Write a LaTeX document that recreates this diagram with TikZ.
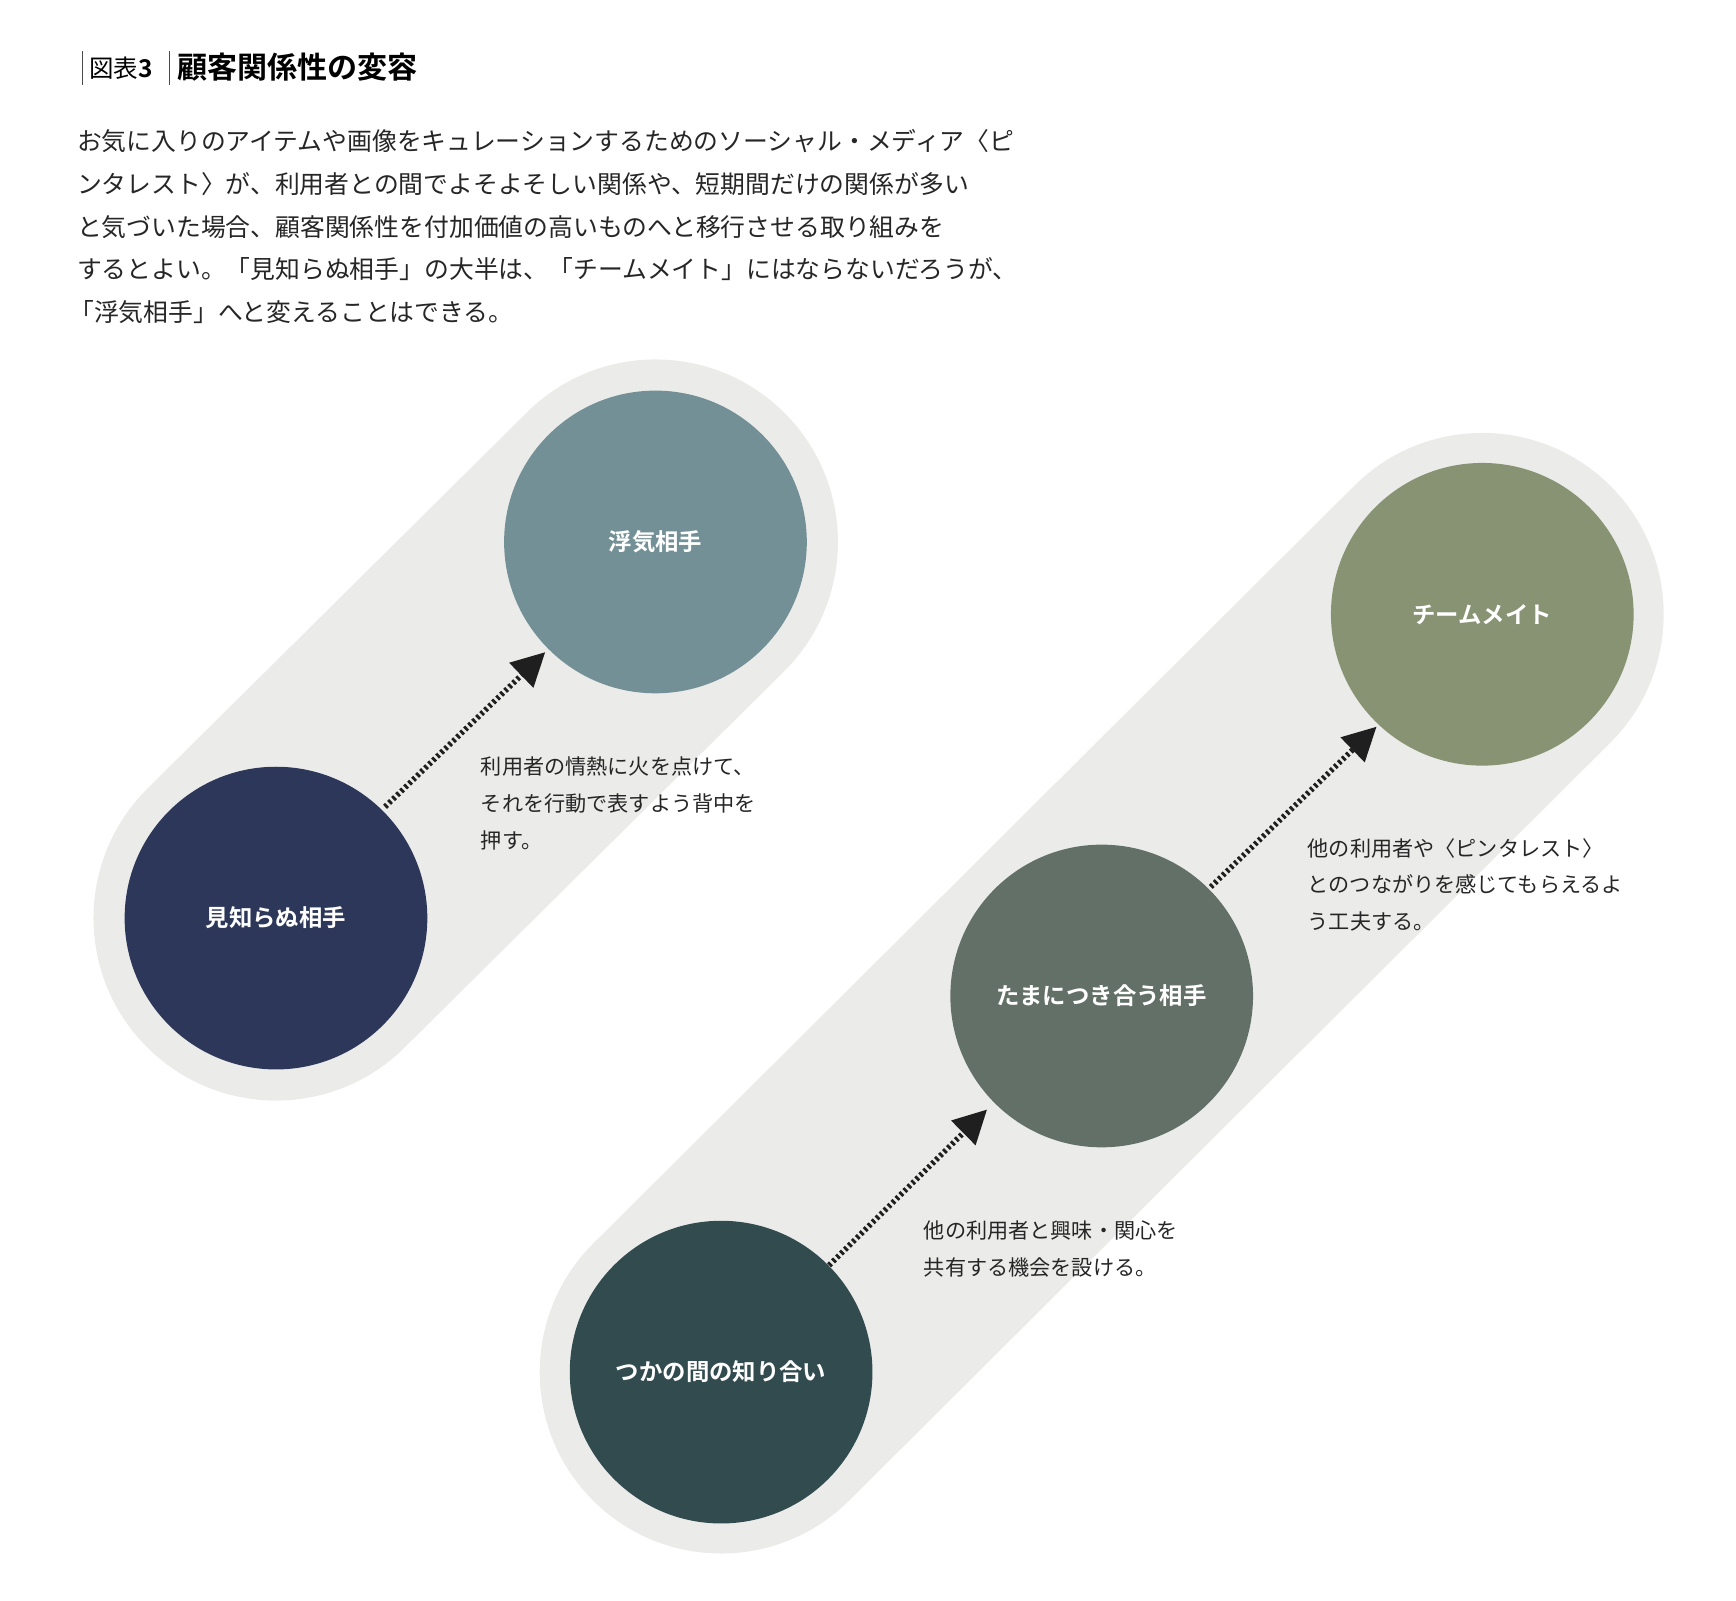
\documentclass[tikz,border=0pt]{standalone}
\usepackage{fontspec}
\setmainfont{Noto Sans CJK JP}
\newfontfamily\jpb{Noto Sans CJK JP Bold}
\usetikzlibrary{arrows.meta}
\definecolor{capg}{HTML}{EBECEA}
\definecolor{cA}{HTML}{739096}
\definecolor{cB}{HTML}{2D3759}
\definecolor{cC}{HTML}{889374}
\definecolor{cD}{HTML}{627067}
\definecolor{cE}{HTML}{324B4F}
\begin{document}
\begin{tikzpicture}[x=1pt,y=-1pt,
  circ/.style={circle,minimum size=272pt,inner sep=0pt,text=white,font=\fontsize{21}{24}\jpb},
  para/.style={anchor=west,inner sep=0pt,font=\fontsize{22.3}{26}\selectfont,text=black!85},
  note/.style={anchor=north west,inner sep=0pt,align=left,font=\fontsize{19}{33}\selectfont,text=black!85},
  darr/.style={line width=5pt,dash pattern=on 2.5pt off 2.5pt,color=black!88,-{Triangle[length=30pt,width=30pt]}}]
\useasboundingbox (0,0) rectangle (1560,1438);
% capsules
\draw[capg,line width=328pt,line cap=round] (589,487) -- (248,825);
\draw[capg,line width=326pt,line cap=round] (1332,552) -- (648,1233);
% circles
\node[circ,fill=cA] (uwaki) at (589,487) {浮気相手};
\node[circ,fill=cB] (shiranu) at (248,825) {見知らぬ相手};
\node[circ,fill=cC] (team) at (1332,552) {チームメイト};
\node[circ,fill=cD] (tamani) at (990,895) {たまにつき合う相手};
\node[circ,fill=cE] (tsuka) at (648,1233) {つかの間の知り合い};
% arrows
\coordinate (a1s) at (346,725); \coordinate (a1e) at (490,586);
\coordinate (a2s) at (1088,797); \coordinate (a2e) at (1237,653);
\coordinate (a3s) at (745,1137); \coordinate (a3e) at (887,997);
\draw[darr] (a1s) -- (a1e);
\draw[darr] (a2s) -- (a2e);
\draw[darr] (a3s) -- (a3e);
% notes
\node[note] (n1) at (432,680) {利用者の情熱に火を点けて、\\それを行動で表すよう背中を\\押す。};
\node[note] (n2) at (1175,753) {他の利用者や〈ピンタレスト〉\\とのつながりを感じてもらえるよ\\う工夫する。};
\node[note] (n3) at (830,1097) {他の利用者と興味・関心を\\共有する機会を設ける。};
% title
\draw[black!70,line width=0.8pt] (74,46) -- (74,76);
\draw[black!70,line width=0.8pt] (152,46) -- (152,76);
\node[anchor=west,inner sep=0pt,font=\fontsize{22}{26}\selectfont] (t1) at (80,61) {図表\jpb 3};
\node[anchor=west,inner sep=0pt,font=\fontsize{27}{30}\jpb] (t2) at (159,60) {顧客関係性の変容};
% paragraph
\node[para] (p1) at (69,127) {お気に入りのアイテムや画像をキュレーションするためのソーシャル・メディア〈ピ};
\node[para] (p2) at (69,165) {ンタレスト〉が、利用者との間でよそよそしい関係や、短期間だけの関係が多い};
\node[para] (p3) at (69,204) {と気づいた場合、顧客関係性を付加価値の高いものへと移行させる取り組みを};
\node[para] (p4) at (69,242) {するとよい。「見知らぬ相手」の大半は、「チームメイト」にはならないだろうが、};
\node[para] (p5) at (62,280) {「浮気相手」へと変えることはできる。};
\end{tikzpicture}
\end{document}
